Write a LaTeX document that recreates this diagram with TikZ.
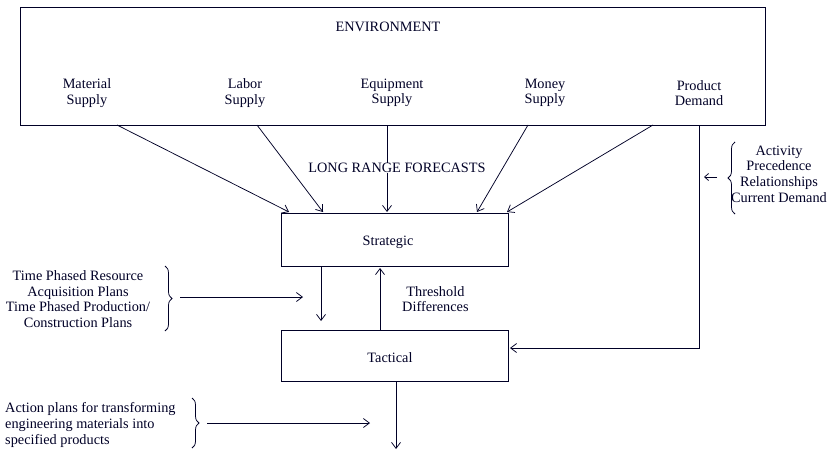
\documentclass[tikz,border=0pt]{standalone}
\usepackage{fontspec}
\setmainfont{Liberation Serif}
\usetikzlibrary{arrows.meta,decorations.pathreplacing}
\begin{document}
\begin{tikzpicture}[x=1pt,y=-1pt,
  ink/.style={draw=black!85!blue, line width=0.75pt},
  arr/.style={ink, -{Straight Barb[length=6pt,width=9pt]}},
  box/.style={ink, rectangle, inner sep=0pt},
  txt/.style={align=center, inner sep=0pt, text=black!85!blue, font=\fontsize{14.3}{15.6}\selectfont},
  brc/.style={ink, decorate, decoration={brace, amplitude=7pt}}]
\useasboundingbox (0,0) rectangle (832,458);
% boxes
\node[box, minimum width=745pt, minimum height=118pt] (env) at (392.5,66) {};
\node[box, minimum width=227pt, minimum height=53pt] (str) at (394.5,239.5) {};
\node[box, minimum width=227pt, minimum height=51pt] (tac) at (394.5,355.5) {};
% texts
\node[txt] (envt) at (388,27) {ENVIRONMENT};
\node[txt] (mat) at (87,93) {Material\\Supply};
\node[txt] (lab) at (245,93) {Labor\\Supply};
\node[txt] (equ) at (392,93) {Equipment\\Supply};
\node[txt] (mon) at (545,93) {Money\\Supply};
\node[txt] (pro) at (699,93) {Product\\Demand};
\node[txt] (lrf) at (397,168) {LONG RANGE FORECASTS};
\node[txt] (strt) at (388,242) {Strategic};
\node[txt] (tact) at (390,358) {Tactical};
\node[txt, anchor=west] (thr) at (402,299) {Threshold\\Differences};
\node[txt] (act) at (779,174) {Activity\\Precedence\\Relationships\\Current Demand};
\node[txt] (tpr) at (78,299) {Time Phased Resource\\Acquisition Plans\\Time Phased Production/\\Construction Plans};
\node[txt, align=left, anchor=west] (apl) at (5,425) {Action plans for transforming\\engineering materials into\\specified products};
% coordinates
\coordinate (m1) at (117,125); \coordinate (m2) at (289,212);
\coordinate (l1) at (257,125); \coordinate (l2) at (323,212);
\coordinate (e1) at (387,125); \coordinate (e2) at (387,212);
\coordinate (n1) at (528,125); \coordinate (n2) at (477,212);
\coordinate (p1) at (653,125); \coordinate (p2) at (507,212);
\coordinate (d1) at (699,125); \coordinate (d2) at (699,348); \coordinate (d3) at (510,348);
\coordinate (sd1) at (321,267); \coordinate (sd2) at (321,321);
\coordinate (tu1) at (380,330); \coordinate (tu2) at (380,268);
\coordinate (ta1) at (180,297); \coordinate (ta2) at (303,297);
\coordinate (aa1) at (207,423); \coordinate (aa2) at (370,423);
\coordinate (td1) at (396,381); \coordinate (td2) at (396,449);
\coordinate (ka1) at (717,177); \coordinate (ka2) at (704,177);
\coordinate (b1t) at (165,266); \coordinate (b1b) at (165,331);
\coordinate (b2t) at (192,398); \coordinate (b2b) at (192,448);
\coordinate (b3t) at (735,142); \coordinate (b3b) at (735,214);
% connectors
\draw[arr] (m1) -- (m2);
\draw[arr] (l1) -- (l2);
\draw[ink] (e1) -- (lrf.north -| e1);
\draw[arr] (lrf.south -| e1) -- (e2);
\draw[arr] (n1) -- (n2);
\draw[arr] (p1) -- (p2);
\draw[arr] (d1) -- (d2) -- (d3);
\draw[arr] (sd1) -- (sd2);
\draw[arr] (tu1) -- (tu2);
\draw[arr] (ta1) -- (ta2);
\draw[arr] (aa1) -- (aa2);
\draw[arr] (td1) -- (td2);
\draw[ink, -{Straight Barb[length=4pt,width=7pt]}] (ka1) -- (ka2);
% braces
\draw[brc] (b1t) -- (b1b);
\draw[brc] (b2t) -- (b2b);
\draw[brc] (b3b) -- (b3t);
\end{tikzpicture}
\end{document}
